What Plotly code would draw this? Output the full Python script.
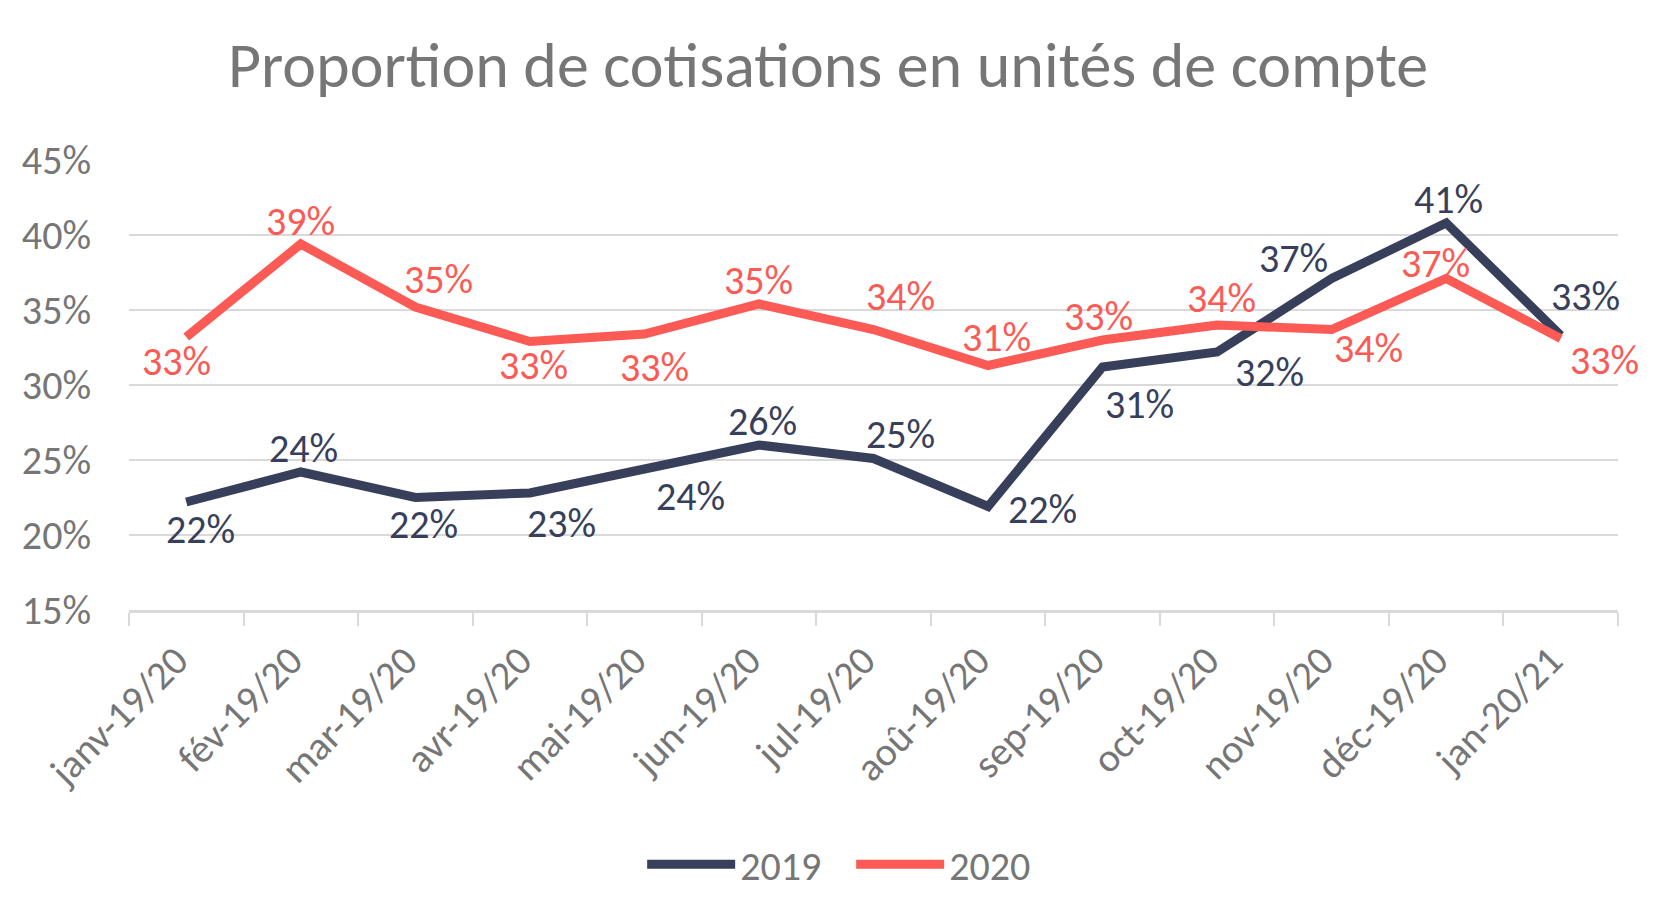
import plotly.graph_objects as go

categories = ["janv-19/20", "fév-19/20", "mar-19/20", "avr-19/20", "mai-19/20", "jun-19/20",
              "jul-19/20", "aoû-19/20", "sep-19/20", "oct-19/20", "nov-19/20", "déc-19/20", "jan-20/21"]
values_2019 = [22.2, 24.2, 22.5, 22.8, 24.4, 26.0, 25.1, 21.9, 31.2, 32.2, 37.1, 40.8, 33.3]
values_2020 = [33.2, 39.4, 35.2, 32.9, 33.4, 35.4, 33.7, 31.3, 33.0, 34.0, 33.7, 37.1, 33.1]
y_ticks = [15, 20, 25, 30, 35, 40, 45]

# label offsets (px) relative to each point: (xshift, yshift)
off_2019 = [(14, -27), (3, 24), (8, -27), (32, -30), (46, -27), (4, 24), (27, 24),
            (54, -3), (37, -37), (52, -20), (-38, 20), (2, 24), (25, 39)]
off_2020 = [(-10, -24), (0, 23), (23, 28), (4, -24), (10, -33), (0, 24), (27, 33),
            (8, 28), (-4, 24), (4, 27), (37, -19), (-11, 15), (44, -22)]

DARK = "#383F5B"
RED = "#FC5A55"
GRAY = "#767676"
GRID = "#D9D9D9"
FONT = "Carlito, Lato, sans-serif"

fig = go.Figure()
fig.add_trace(go.Scatter(x=categories, y=values_2019, mode="lines", name="2019",
                         line=dict(color=DARK, width=9)))
fig.add_trace(go.Scatter(x=categories, y=values_2020, mode="lines", name="2020",
                         line=dict(color=RED, width=9)))

for vals, offs, col in [(values_2019, off_2019, DARK), (values_2020, off_2020, RED)]:
    for c, v, (dx, dy) in zip(categories, vals, offs):
        fig.add_annotation(x=c, y=v, text=f"{round(v):d}%", showarrow=False,
                           xshift=dx, yshift=dy, font=dict(family=FONT, size=40, color=col))

fig.update_layout(
    width=1656, height=916,
    paper_bgcolor="white", plot_bgcolor="white",
    margin=dict(l=129, r=38, t=160, b=306, autoexpand=False),
    title=dict(text="Proportion de cotisations en unités de compte", x=0.5, xanchor="center",
               y=0.93, yanchor="middle", font=dict(family=FONT, size=64, color=GRAY)),
    showlegend=True,
    legend=dict(orientation="h", x=0.485, xanchor="center", y=-0.565, yanchor="middle",
                font=dict(family=FONT, size=40, color=GRAY), itemwidth=88,
                entrywidth=106, entrywidthmode="pixels"),
    font=dict(family=FONT, color=GRAY),
)
fig.update_xaxes(type="category", range=[-0.5, 12.5], autorange=False, tickangle=-45,
                 tickson="boundaries", ticks="outside",
                 ticklen=13, tickwidth=2, tickcolor=GRID, showline=True, linecolor=GRID,
                 linewidth=3, showgrid=False, ticklabelstandoff=8, ticklabelshift=-10,
                 tickfont=dict(family=FONT, size=40, color=GRAY))
fig.update_yaxes(range=[15, 45], autorange=False, tickvals=y_ticks,
                 ticktext=[f"{t}%" for t in y_ticks],
                 showgrid=True, gridcolor=GRID, gridwidth=2, zeroline=False, showline=False,
                 ticks="", ticklabelstandoff=37, tickfont=dict(family=FONT, size=40, color=GRAY))

fig.write_html("out.html")
